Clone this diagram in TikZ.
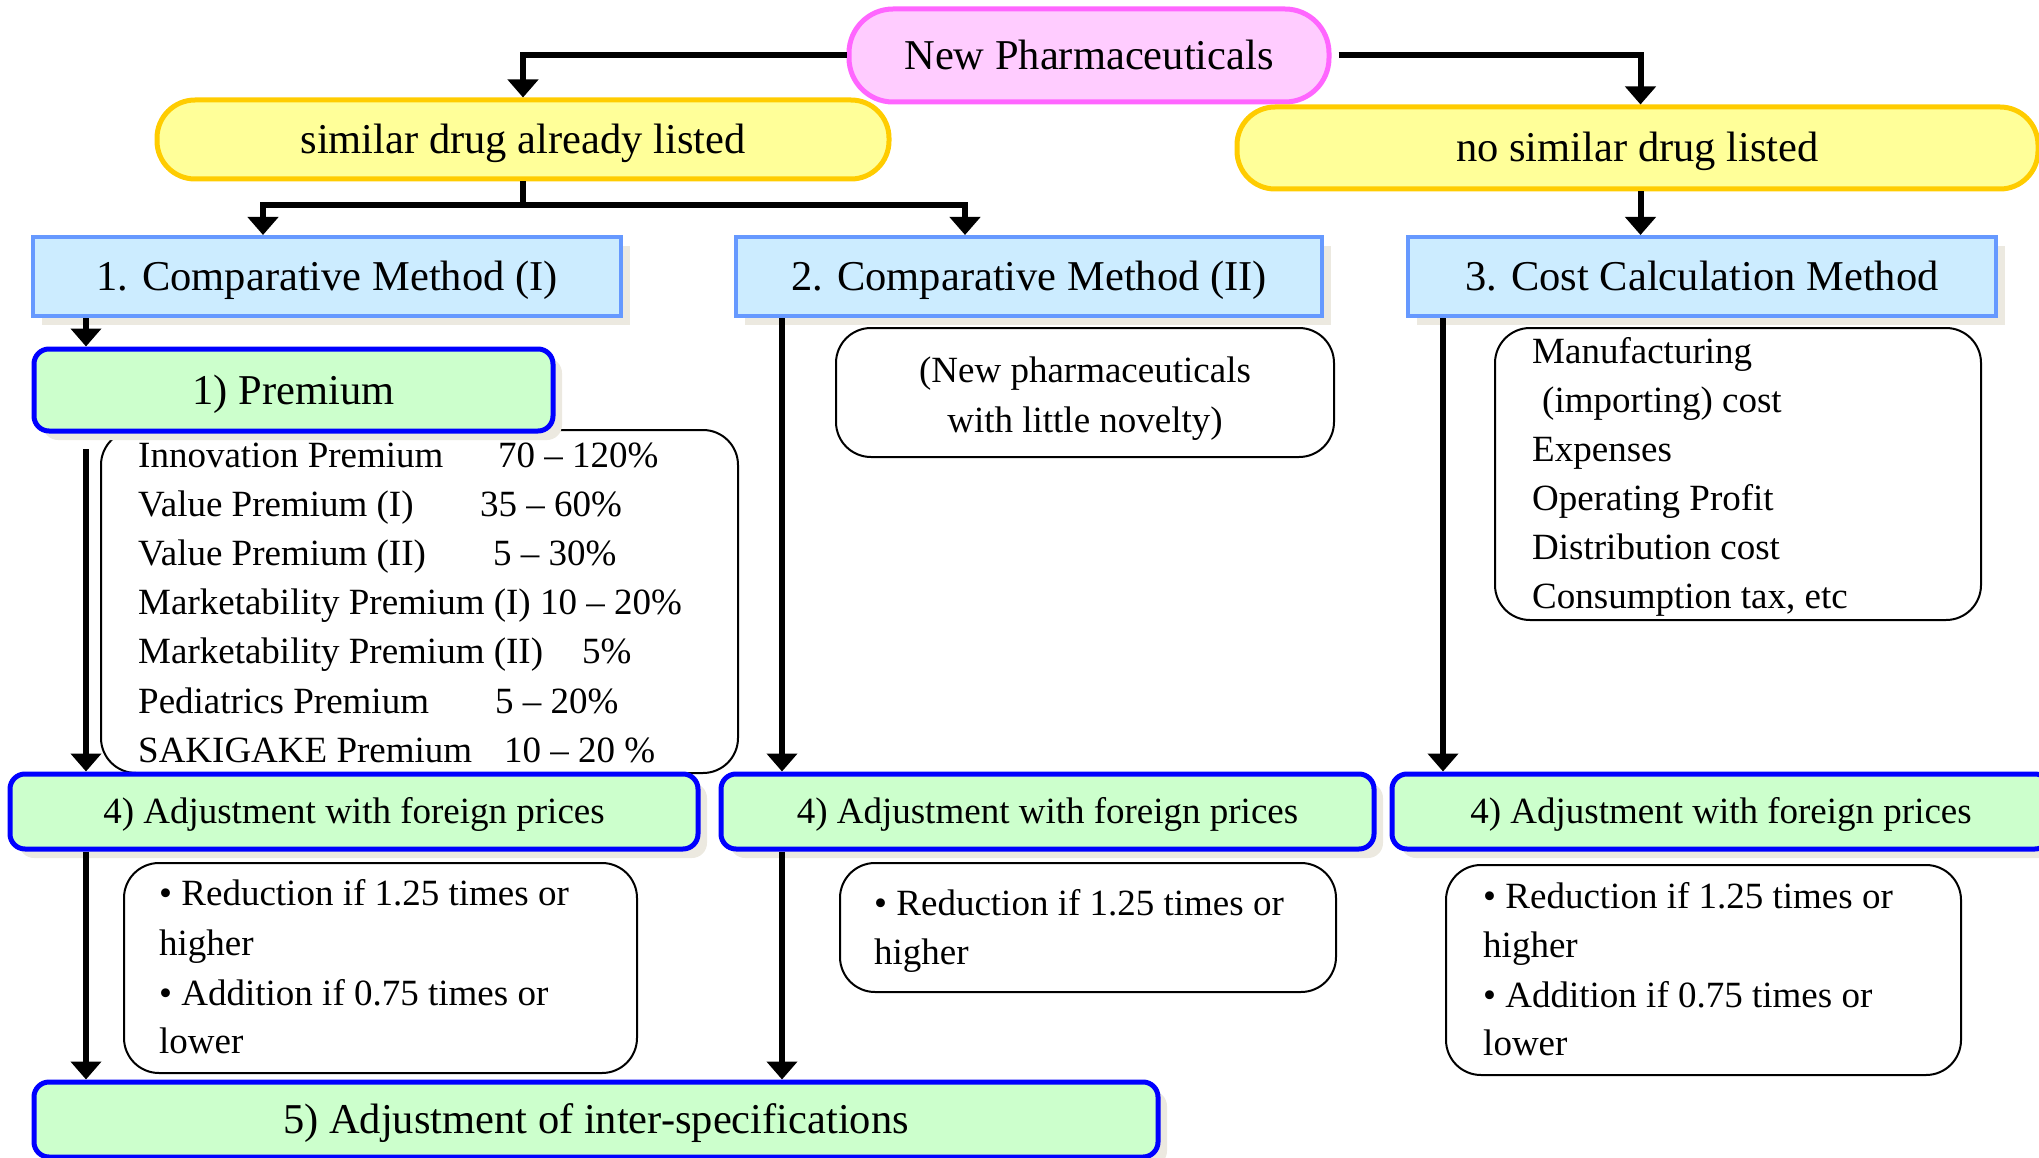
\documentclass[tikz,border=0pt]{standalone}
\usepackage{fontspec}
\setmainfont{Liberation Serif}
\usetikzlibrary{arrows.meta,shadows}
\definecolor{pinkfill}{HTML}{FFCCFF}
\definecolor{pinkline}{HTML}{FF66FF}
\definecolor{yelfill}{HTML}{FFFF99}
\definecolor{yelline}{HTML}{FFCC00}
\definecolor{bluefill}{HTML}{CCECFF}
\definecolor{blueline}{HTML}{6699FF}
\definecolor{grnfill}{HTML}{CCFFCC}
\definecolor{grnline}{HTML}{0000FF}
\definecolor{shadowc}{HTML}{ECE9E0}
\tikzset{
  bigtxt/.style={font=\fontsize{42.5}{51}\selectfont, text height=28pt, text depth=0pt, inner sep=0pt},
  midtxt/.style={font=\fontsize{37}{49}\selectfont, text height=24pt, text depth=0pt, inner sep=0pt},
  shad/.style={drop shadow={shadow xshift=9pt, shadow yshift=-9pt, fill=shadowc, opacity=1}},
  npbox/.style={bigtxt, draw=pinkline, fill=pinkfill, line width=5pt, rounded corners=44pt},
  ybox/.style={bigtxt, draw=yelline, fill=yelfill, line width=5pt, rounded corners=38pt},
  mbox/.style={bigtxt, draw=blueline, fill=bluefill, line width=4pt, shad},
  gbox/.style={draw=grnline, fill=grnfill, line width=5pt, rounded corners=15pt, shad},
  notebox/.style={draw=black, fill=white, line width=2pt, rounded corners=35pt},
  ltxt/.style={font=\fontsize{37}{49}\selectfont, inner sep=0pt, anchor=base west},
  ctxt/.style={font=\fontsize{37}{49}\selectfont, inner sep=0pt, anchor=base},
  conn/.style={line width=6pt, -{Triangle[width=30pt,length=18pt]}}
}
\begin{document}
\begin{tikzpicture}[x=1pt,y=-1pt]
\useasboundingbox (0,0) rectangle (2039,1158);
% top level
\node[npbox, minimum width=480pt, minimum height=93pt] (np) at (1089,55.5) {New Pharmaceuticals};
\node[ybox, minimum width=732pt, minimum height=79pt] (sim) at (523,139.5) {similar drug already listed};
\node[ybox, minimum width=801pt, minimum height=82pt] (nosim) at (1637.5,148) {no similar drug listed};
% methods
\node[mbox, minimum width=588pt, minimum height=79pt] (m1) at (327,276.5) {1. Comparative Method (I)};
\node[mbox, minimum width=586pt, minimum height=79pt] (m2) at (1029,276.5) {2. Comparative Method (II)};
\node[mbox, minimum width=588pt, minimum height=79pt] (m3) at (1702,276.5) {3. Cost Calculation Method};
% premium list
\node[notebox, minimum width=637pt, minimum height=343pt] (plist) at (419.5,601.5) {};
\node[gbox, bigtxt, minimum width=519pt, minimum height=82pt] (prem) at (293.5,390) {1) Premium};
\node[ltxt] (p1) at (138,467) {Innovation Premium};
\node[ltxt] (v1) at (498,467) {70 – 120\%};
\node[ltxt] (p2) at (138,516) {Value Premium (I)};
\node[ltxt] (v2) at (480,516) {35 – 60\%};
\node[ltxt] (p3) at (138,565) {Value Premium (II)};
\node[ltxt] (v3) at (493,565) {5 – 30\%};
\node[ltxt] (p4) at (138,614) {Marketability Premium (I) 10 – 20\%};
\node[ltxt] (p5) at (138,663) {Marketability Premium (II)};
\node[ltxt] (v5) at (582,663) {5\%};
\node[ltxt] (p6) at (138,713) {Pediatrics Premium};
\node[ltxt] (v6) at (495,713) {5 – 20\%};
\node[ltxt] (p7) at (138,762) {SAKIGAKE Premium};
\node[ltxt] (v7) at (504,762) {10 – 20 \%};
% method II note
\node[notebox, minimum width=498pt, minimum height=129pt] (note2) at (1085,392.5) {};
\node[ctxt] (n2a) at (1085,382) {(New pharmaceuticals};
\node[ctxt] (n2b) at (1085,432) {with little novelty)};
% cost note
\node[notebox, minimum width=486pt, minimum height=292pt] (cost) at (1738,474) {};
\node[ltxt] (c1) at (1532,363) {Manufacturing};
\node[ltxt] (c2) at (1542,412) {(importing) cost};
\node[ltxt] (c3) at (1532,461) {Expenses};
\node[ltxt] (c4) at (1532,510) {Operating Profit};
\node[ltxt] (c5) at (1532,559) {Distribution cost};
\node[ltxt] (c6) at (1532,608) {Consumption tax, etc};
% adjustment boxes
\node[gbox, midtxt, minimum width=688pt, minimum height=75pt] (adjA) at (354,811.5) {4) Adjustment with foreign prices};
\node[gbox, midtxt, minimum width=653pt, minimum height=75pt] (adjB) at (1047.5,811.5) {4) Adjustment with foreign prices};
\node[gbox, midtxt, minimum width=658pt, minimum height=75pt] (adjC) at (1721,811.5) {4) Adjustment with foreign prices};
% notes under adjustments
\node[notebox, minimum width=513pt, minimum height=210pt] (nA) at (380.5,968) {};
\node[ltxt] (a1) at (159,905) {• Reduction if 1.25 times or};
\node[ltxt] (a2) at (159,955) {higher};
\node[ltxt] (a3) at (159,1005) {• Addition if 0.75 times or};
\node[ltxt] (a4) at (159,1053) {lower};
\node[notebox, minimum width=496pt, minimum height=129pt] (nB) at (1088,927.5) {};
\node[ltxt] (b1) at (874,915) {• Reduction if 1.25 times or};
\node[ltxt] (b2) at (874,964) {higher};
\node[notebox, minimum width=515pt, minimum height=210pt] (nC) at (1703.5,970) {};
\node[ltxt] (d1) at (1483,908) {• Reduction if 1.25 times or};
\node[ltxt] (d2) at (1483,957) {higher};
\node[ltxt] (d3) at (1483,1007) {• Addition if 0.75 times or};
\node[ltxt] (d4) at (1483,1055) {lower};
% final box
\node[gbox, bigtxt, minimum width=1124pt, minimum height=75pt] (five) at (596,1119.5) {5) Adjustment of inter-specifications};
% connectors
\coordinate (xL) at (86,0);
\coordinate (xM) at (782,0);
\coordinate (xR) at (1443,0);
\coordinate (j1) at (523,205);
\coordinate (pstart) at (86,449);
\draw[conn] (np.west) -| (sim.north);
\draw[conn] ([xshift=7pt]np.east) -| ([xshift=3pt]nosim.north);
\draw[line width=6pt] (sim.south) -- (j1);
\draw[conn] (j1) -| ([xshift=-64pt]m1.north);
\draw[conn] (j1) -| ([xshift=-64pt]m2.north);
\draw[conn] ([xshift=3pt]nosim.south) -- ([xshift=-61.5pt]m3.north);
\draw[conn] (m1.south -| xL) -- (prem.north -| xL);
\draw[conn] (pstart) -- (adjA.north -| xL);
\draw[conn] (m2.south -| xM) -- (adjB.north -| xM);
\draw[conn] (m3.south -| xR) -- (adjC.north -| xR);
\draw[conn] (adjA.south -| xL) -- (five.north -| xL);
\draw[conn] (adjB.south -| xM) -- (five.north -| xM);
\end{tikzpicture}
\end{document}
